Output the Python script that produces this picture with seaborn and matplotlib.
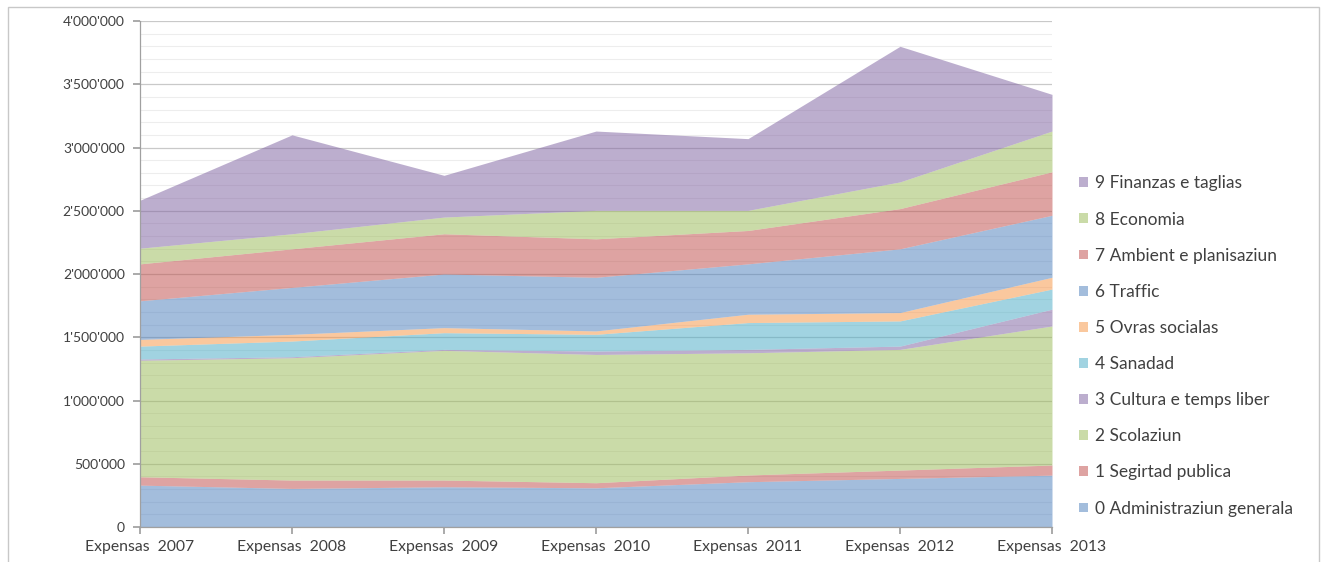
import matplotlib
matplotlib.use("Agg")
import matplotlib.pyplot as plt
from matplotlib.patches import Rectangle
from matplotlib.ticker import FuncFormatter, MultipleLocator, FixedLocator
import seaborn as sns

# ---------------- data ----------------
categories = ["Expensas  2007", "Expensas  2008", "Expensas  2009", "Expensas  2010",
              "Expensas  2011", "Expensas  2012", "Expensas  2013"]

series_names = ["0 Administraziun generala", "1 Segirtad publica", "2 Scolaziun",
                "3 Cultura e temps liber", "4 Sanadad", "5 Ovras socialas",
                "6 Traffic", "7 Ambient e planisaziun", "8 Economia",
                "9 Finanzas e taglias"]

administraziun = [331000, 305000, 318000, 310000, 358000, 384000, 410000]
segirtad       = [66000, 66000, 53000, 40000, 53000, 66000, 80000]
scolaziun      = [921000, 967000, 1025000, 1014000, 966000, 954000, 1099000]
cultura        = [10000, 8000, 8000, 27000, 27000, 26000, 133000]
sanadad        = [102000, 124000, 132000, 132000, 212000, 199000, 159000]
ovras          = [53000, 53000, 40000, 27000, 66000, 66000, 93000]
traffic        = [305000, 371000, 424000, 424000, 398000, 504000, 490000]
ambient        = [292000, 305000, 318000, 304000, 264000, 318000, 344000]
economia       = [124000, 119000, 132000, 225000, 159000, 211000, 322000]
finanzas       = [379000, 782000, 330000, 627000, 567000, 1072000, 290000]

y_ticks = [0, 500000, 1000000, 1500000, 2000000, 2500000, 3000000, 3500000, 4000000]

series_values = [administraziun, segirtad, scolaziun, cultura, sanadad, ovras,
                 traffic, ambient, economia, finanzas]

base_colors = ["#4F81BD", "#C0504D", "#9BBB59", "#8064A2", "#4BACC6", "#F79646",
               "#4F81BD", "#C0504D", "#9BBB59", "#8064A2"]

# ---------------- style ----------------
sns.set_theme(style="white")
plt.rcParams["font.family"] = ["Lato", "DejaVu Sans"]
palette = sns.color_palette(base_colors)

W, H = 1325, 562
fig = plt.figure(figsize=(W / 100, H / 100), dpi=100)
ax = fig.add_axes([140 / W, 1 - 527 / H, (1052 - 140) / W, (527 - 21) / H])

x = list(range(len(categories)))
polys = ax.stackplot(x, series_values, colors=palette, alpha=0.52, linewidth=0,
                     labels=series_names)

ax.set_xlim(0, len(categories) - 1)
ax.set_ylim(0, 4000000)

ax.yaxis.set_major_locator(FixedLocator(y_ticks))
ax.yaxis.set_minor_locator(MultipleLocator(100000))
ax.yaxis.set_major_formatter(FuncFormatter(lambda v, p: f"{int(v):,}".replace(",", "'")))
ax.grid(which="major", axis="y", color="#C9C9C9", linewidth=0.9)
ax.grid(which="minor", axis="y", color="#EDEDED", linewidth=0.8)
ax.grid(which="major", axis="x", visible=False)
ax.set_axisbelow(True)

ax.set_xticks(x)
ax.set_xticklabels(categories)

for s in ["top", "right"]:
    ax.spines[s].set_visible(False)
for s in ["left", "bottom"]:
    ax.spines[s].set_color("#A0A0A0")
    ax.spines[s].set_linewidth(0.9)

ax.tick_params(axis="y", which="major", direction="out", length=5, color="#A0A0A0",
               labelsize=10, labelcolor="#404040", pad=6, left=True)
ax.tick_params(axis="y", which="minor", length=0)
ax.tick_params(axis="x", direction="out", length=5, color="#A0A0A0",
               labelsize=11.3, labelcolor="#404040", pad=4, bottom=True)

handles = polys[::-1]
labels = series_names[::-1]
leg = fig.legend(handles, labels, loc="center left",
                 bbox_to_anchor=(1072 / W, 1 - 346 / H),
                 frameon=False, fontsize=12.5, labelcolor="#404040",
                 handlelength=0.5, handleheight=0.5, handletextpad=0.45,
                 labelspacing=1.16, borderaxespad=0)

# outer chart border
fig.patches.append(Rectangle((8 / W, -0.02), (1319 - 8) / W, (562 - 7) / H + 0.02,
                             transform=fig.transFigure, fill=False,
                             edgecolor="#C8C8C8", linewidth=1.0))

fig.savefig("out.png", dpi=100)
